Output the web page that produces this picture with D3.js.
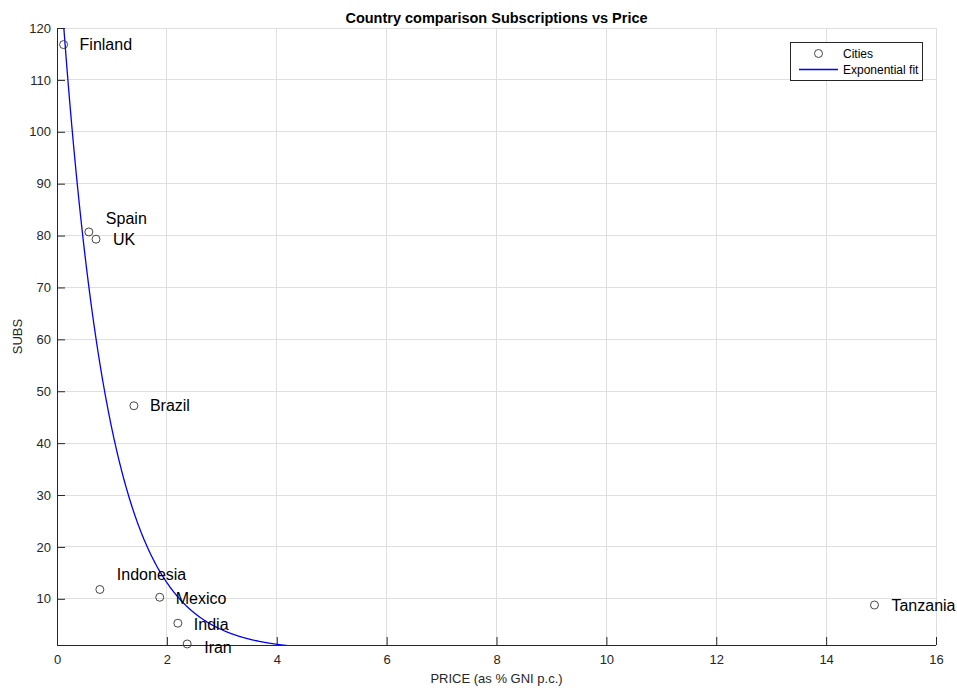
<!DOCTYPE html>
<html><head><meta charset="utf-8">
<script src="https://cdn.jsdelivr.net/npm/d3@7"></script>
<style>body{margin:0;background:#fff;} text{font-family:"Liberation Sans",Arial,sans-serif;}</style>
</head><body>
<svg id="c" width="957" height="688"></svg>
<script>
// ---- data ----
const countries = ["Finland","Spain","UK","Brazil","Indonesia","Mexico","India","Iran","Tanzania"];
const price = [0.12, 0.58, 0.71, 1.40, 0.78, 1.87, 2.20, 2.37, 14.88];
const subs  = [116.8, 80.7, 79.3, 47.2, 11.8, 10.3, 5.3, 1.3, 8.8];
const labelDx = [16, 17, 17, 16, 17, 16, 16, 17, 17];
const labelDy = [0, -14, 0, 0, -15, 1, 1, 3, 0];
const fitA = 139, fitB = -1.18;
const xTicks = [0,2,4,6,8,10,12,14,16];
const yTicks = [10,20,30,40,50,60,70,80,90,100,110,120];
const xDomain = [0,16], yDomain = [1.1,120];

const svg = d3.select("#c");
const L=57, R=936, T=28, B=645;
const x = d3.scaleLinear().domain(xDomain).range([L,R]);
const y = d3.scaleLinear().domain(yDomain).range([B,T]);

// grid
const grid = svg.append("g");
grid.selectAll(".gx").data(xTicks).enter().append("line")
  .attr("x1",d=>x(d)).attr("x2",d=>x(d)).attr("y1",T).attr("y2",B)
  .attr("stroke","#dfdfdf").attr("stroke-width",1).attr("shape-rendering","crispEdges");
grid.selectAll(".gy").data(yTicks).enter().append("line")
  .attr("x1",L).attr("x2",R).attr("y1",d=>y(d)).attr("y2",d=>y(d))
  .attr("stroke","#dfdfdf").attr("stroke-width",1).attr("shape-rendering","crispEdges");

// axes
const xAxis = d3.axisBottom(x).tickValues(xTicks).tickSizeInner(-8).tickSizeOuter(0).tickPadding(10);
const yAxis = d3.axisLeft(y).tickValues(yTicks).tickSizeInner(-8).tickSizeOuter(0).tickPadding(6);
const gx = svg.append("g").attr("transform",`translate(0,${B})`).call(xAxis);
const gy = svg.append("g").attr("transform",`translate(${L},0)`).call(yAxis);
[gx,gy].forEach(g=>{
  g.select(".domain").attr("stroke","#262626").attr("stroke-width",1);
  g.selectAll(".tick line").attr("stroke","#262626");
  g.selectAll(".tick text").attr("fill","#262626").style("font-size","13px").style("font-family","'Liberation Sans',Arial,sans-serif");
});
gy.select(".domain").attr("d",`M0.5,${B}V${T}`);
gx.select(".domain").attr("d",`M${L},0.5H${R}`);

// clip
svg.append("clipPath").attr("id","clip").append("rect").attr("x",L).attr("y",T).attr("width",R-L).attr("height",B-T);

// fit curve
const xs = d3.range(0, 16.001, 0.01);
const line = d3.line().x(d=>x(d)).y(d=>y(fitA*Math.exp(fitB*d)));
svg.append("path").datum(xs).attr("d",line).attr("fill","none").attr("stroke","#0000ff")
  .attr("stroke-width",1.3).attr("clip-path","url(#clip)");

// points
const pts = countries.map((c,i)=>({c, x:price[i], y:subs[i], dx:labelDx[i], dy:labelDy[i]}));
svg.selectAll(".pt").data(pts).enter().append("circle")
  .attr("cx",d=>x(d.x)).attr("cy",d=>y(d.y)).attr("r",4)
  .attr("fill","none").attr("stroke","#333").attr("stroke-width",0.9);
svg.selectAll(".lb").data(pts).enter().append("text")
  .attr("x",d=>x(d.x)+d.dx).attr("y",d=>y(d.y)+d.dy).attr("dy","0.35em")
  .style("font-size","16px").attr("fill","#000").text(d=>d.c);

// title and labels
svg.append("text").attr("x",(L+R)/2).attr("y",23).attr("text-anchor","middle")
  .style("font-size","14.5px").style("font-weight","bold").attr("fill","#000")
  .text("Country comparison Subscriptions vs Price");
svg.append("text").attr("x",(L+R)/2).attr("y",683).attr("text-anchor","middle")
  .style("font-size","13px").attr("fill","#262626").text("PRICE (as % GNI p.c.)");
svg.append("text").attr("transform",`translate(22,${(T+B)/2}) rotate(-90)`).attr("text-anchor","middle")
  .style("font-size","13px").attr("fill","#262626").text("SUBS");

// legend
const lg = svg.append("g");
lg.append("rect").attr("x",790.5).attr("y",42.5).attr("width",132).attr("height",38)
  .attr("fill","#fff").attr("stroke","#262626").attr("stroke-width",1);
lg.append("circle").attr("cx",818.5).attr("cy",53.5).attr("r",4).attr("fill","none").attr("stroke","#333").attr("stroke-width",0.9);
lg.append("line").attr("x1",799).attr("x2",838).attr("y1",69.5).attr("y2",69.5).attr("stroke","#0000ff").attr("stroke-width",1.3);
lg.append("text").attr("x",843).attr("y",54).attr("dy","0.35em").style("font-size","12px").attr("fill","#000").text("Cities");
lg.append("text").attr("x",843).attr("y",70).attr("dy","0.35em").style("font-size","12px").attr("fill","#000").text("Exponential fit");
</script>
</body></html>
